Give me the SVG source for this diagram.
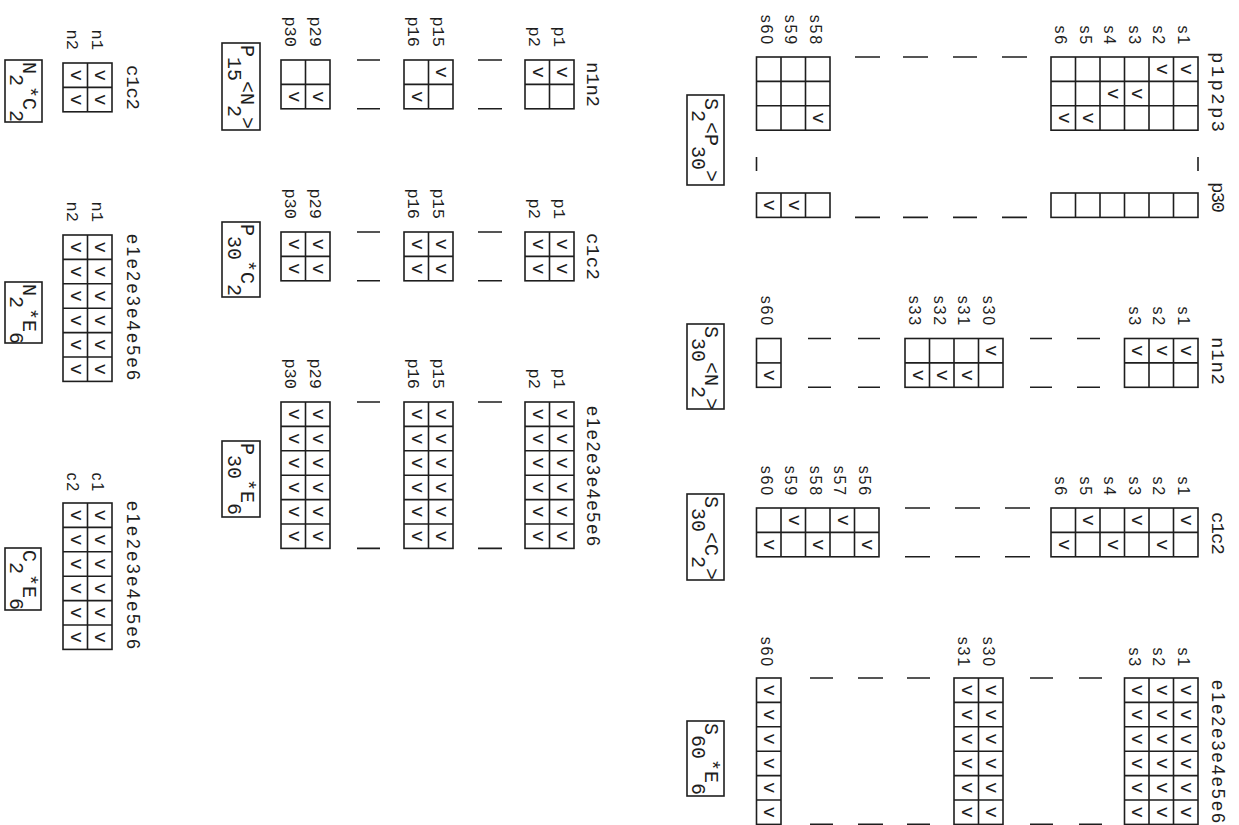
<svg xmlns="http://www.w3.org/2000/svg" width="1239" height="825" viewBox="0 0 1239 825">
<style>
.ln{stroke:#1e1e1e;stroke-width:1.6;fill:none}
.ck{font-family:"Liberation Mono",monospace;font-size:19px;text-anchor:middle;fill:#1e1e1e}
.ls{font-family:"Liberation Sans",Arial,sans-serif;font-size:16px;text-anchor:end;letter-spacing:1.8px;fill:#1e1e1e}
.lm{font-family:"Liberation Mono",monospace;font-size:17px;text-anchor:end;fill:#1e1e1e}
.hm{font-family:"Liberation Mono",monospace;font-size:19px;fill:#1e1e1e}
.hs{font-family:"Liberation Sans",Arial,sans-serif;font-size:18px;fill:#1e1e1e}
.bt{font-family:"Liberation Mono",monospace;font-size:20px;fill:#1e1e1e}
</style>
<rect width="1239" height="825" fill="#ffffff"/>
<g transform="translate(1239,0) rotate(90)">

<g id="node-S2P30">
<rect class="ln" x="57" y="41" width="73.2" height="147"/>
<path class="ln" d="M81.4 41V188M105.8 41V188M57 65.5H130.2M57 90H130.2M57 114.5H130.2M57 139H130.2M57 163.5H130.2"/>
<rect class="ln" x="193" y="41" width="24.4" height="147"/>
<path class="ln" d="M193 65.5H217.4M193 90H217.4M193 114.5H217.4M193 139H217.4M193 163.5H217.4"/>
<rect class="ln" x="57" y="409" width="73.2" height="73.5"/>
<path class="ln" d="M81.4 409V482.5M105.8 409V482.5M57 433.5H130.2M57 458H130.2"/>
<rect class="ln" x="193" y="409" width="24.4" height="73.5"/>
<path class="ln" d="M193 433.5H217.4M193 458H217.4"/>
<path class="ln" d="M157 41H171M157 482.5H171M57 212V237M57 262V286M57 311V336M57 359V384M217.4 212V237M217.4 262V286M217.4 311V336M217.4 359V384"/>
<text class="hm" x="52" y="27" textLength="80">p1p2p3</text>
<text class="hm" x="182" y="27" textLength="31">p30</text>
<text class="ls" x="46" y="61.5">s1</text><text class="ls" x="46" y="86">s2</text><text class="ls" x="46" y="110.5">s3</text>
<text class="ls" x="46" y="135">s4</text><text class="ls" x="46" y="159.5">s5</text><text class="ls" x="46" y="184">s6</text>
<text class="ls" x="46" y="429.5">s58</text><text class="ls" x="46" y="454">s59</text><text class="ls" x="46" y="478.5">s60</text>
<text class="ck" x="69.2" y="58">v</text><text class="ck" x="69.2" y="82.5">v</text><text class="ck" x="93.6" y="107">v</text>
<text class="ck" x="93.6" y="131.5">v</text><text class="ck" x="118" y="156">v</text><text class="ck" x="118" y="180.5">v</text>
<text class="ck" x="118" y="426">v</text><text class="ck" x="205.2" y="450.5">v</text><text class="ck" x="205.2" y="475">v</text>
<rect class="ln" x="95" y="515" width="90" height="37"/>
<text class="bt" x="98" y="534">S<tspan y="547">2</tspan><tspan y="534">&lt;P</tspan><tspan y="547">30</tspan><tspan y="534">&gt;</tspan></text>
</g>

<g id="node-S30N2">
<rect class="ln" x="338.5" y="41" width="48.8" height="73.5"/>
<path class="ln" d="M362.9 41V114.5M338.5 65.5H387.3M338.5 90H387.3"/>
<rect class="ln" x="338.5" y="236" width="48.8" height="98"/>
<path class="ln" d="M362.9 236V334M338.5 260.5H387.3M338.5 285H387.3M338.5 309.5H387.3"/>
<rect class="ln" x="338.5" y="458" width="48.8" height="24.5"/>
<path class="ln" d="M362.9 458V482.5"/>
<path class="ln" d="M338.5 139V162M338.5 187V209M338.5 359V381M338.5 408V431M387.3 139V162M387.3 187V209M387.3 359V381M387.3 408V431"/>
<text class="hm" x="337" y="27" textLength="48">n1n2</text>
<text class="ls" x="327" y="61.5">s1</text><text class="ls" x="327" y="86">s2</text><text class="ls" x="327" y="110.5">s3</text>
<text class="ls" x="327" y="256.5">s30</text><text class="ls" x="327" y="281">s31</text><text class="ls" x="327" y="305.5">s32</text><text class="ls" x="327" y="330">s33</text>
<text class="ls" x="327" y="478.5">s60</text>
<text class="ck" x="350.7" y="58">v</text><text class="ck" x="350.7" y="82.5">v</text><text class="ck" x="350.7" y="107">v</text>
<text class="ck" x="350.7" y="253">v</text><text class="ck" x="375.1" y="277.5">v</text><text class="ck" x="375.1" y="302">v</text><text class="ck" x="375.1" y="326.5">v</text>
<text class="ck" x="375.1" y="475">v</text>
<rect class="ln" x="324" y="515" width="85" height="37"/>
<text class="bt" x="326" y="534">S<tspan y="547">30</tspan><tspan y="534">&lt;N</tspan><tspan y="547">2</tspan><tspan y="534">&gt;</tspan></text>
</g>

<g id="node-S30C2">
<rect class="ln" x="508" y="41" width="48.8" height="147"/>
<path class="ln" d="M532.4 41V188M508 65.5H556.8M508 90H556.8M508 114.5H556.8M508 139H556.8M508 163.5H556.8"/>
<rect class="ln" x="508" y="360" width="48.8" height="122.5"/>
<path class="ln" d="M532.4 360V482.5M508 384.5H556.8M508 409H556.8M508 433.5H556.8M508 458H556.8"/>
<path class="ln" d="M508 209V234M508 259V284M508 309V334M556.8 209V234M556.8 259V284M556.8 309V334"/>
<text class="hm" x="512" y="27" textLength="43">c1c2</text>
<text class="ls" x="497" y="61.5">s1</text><text class="ls" x="497" y="86">s2</text><text class="ls" x="497" y="110.5">s3</text>
<text class="ls" x="497" y="135">s4</text><text class="ls" x="497" y="159.5">s5</text><text class="ls" x="497" y="184">s6</text>
<text class="ls" x="497" y="380.5">s56</text><text class="ls" x="497" y="405">s57</text><text class="ls" x="497" y="429.5">s58</text><text class="ls" x="497" y="454">s59</text><text class="ls" x="497" y="478.5">s60</text>
<text class="ck" x="520.2" y="58">v</text><text class="ck" x="544.6" y="82.5">v</text><text class="ck" x="520.2" y="107">v</text>
<text class="ck" x="544.6" y="131.5">v</text><text class="ck" x="520.2" y="156">v</text><text class="ck" x="544.6" y="180.5">v</text>
<text class="ck" x="544.6" y="377">v</text><text class="ck" x="520.2" y="401.5">v</text><text class="ck" x="544.6" y="426">v</text><text class="ck" x="520.2" y="450.5">v</text><text class="ck" x="544.6" y="475">v</text>
<rect class="ln" x="494" y="515" width="86" height="37"/>
<text class="bt" x="496" y="534">S<tspan y="547">30</tspan><tspan y="534">&lt;C</tspan><tspan y="547">2</tspan><tspan y="534">&gt;</tspan></text>
</g>

<g id="node-S60E6">
<rect class="ln" x="678" y="41" width="146.4" height="73.5"/>
<path class="ln" d="M702.4 41V114.5M726.8 41V114.5M751.2 41V114.5M775.6 41V114.5M800 41V114.5M678 65.5H824.4M678 90H824.4"/>
<rect class="ln" x="678" y="236" width="146.4" height="49"/>
<path class="ln" d="M702.4 236V285M726.8 236V285M751.2 236V285M775.6 236V285M800 236V285M678 260.5H824.4"/>
<rect class="ln" x="678" y="458" width="146.4" height="24.5"/>
<path class="ln" d="M702.4 458V482.5M726.8 458V482.5M751.2 458V482.5M775.6 458V482.5M800 458V482.5"/>
<path class="ln" d="M678 137V160M678 186V209M678 309V332M678 356V381M678 406V429M824.4 137V160M824.4 186V209M824.4 309V332M824.4 356V381M824.4 406V429"/>
<text class="hs" x="680" y="27" textLength="143">e1e2e3e4e5e6</text>
<text class="ls" x="668" y="61.5">s1</text><text class="ls" x="668" y="86">s2</text><text class="ls" x="668" y="110.5">s3</text>
<text class="ls" x="668" y="256.5">s30</text><text class="ls" x="668" y="281">s31</text><text class="ls" x="668" y="478.5">s60</text>
<text class="ck" x="690.2 714.6 739 763.4 787.8 812.2" y="58">vvvvvv</text>
<text class="ck" x="690.2 714.6 739 763.4 787.8 812.2" y="82.5">vvvvvv</text>
<text class="ck" x="690.2 714.6 739 763.4 787.8 812.2" y="107">vvvvvv</text>
<text class="ck" x="690.2 714.6 739 763.4 787.8 812.2" y="253">vvvvvv</text>
<text class="ck" x="690.2 714.6 739 763.4 787.8 812.2" y="277.5">vvvvvv</text>
<text class="ck" x="690.2 714.6 739 763.4 787.8 812.2" y="475">vvvvvv</text>
<rect class="ln" x="721" y="515" width="75" height="37"/>
<text class="bt" x="723" y="534">S<tspan y="547">60</tspan><tspan y="534">*E</tspan><tspan y="547">6</tspan></text>
</g>

<g id="node-P15N2">
<rect class="ln" x="60" y="665" width="48.8" height="49"/>
<path class="ln" d="M84.4 665V714M60 689.5H108.8"/>
<rect class="ln" x="60" y="786" width="48.8" height="49"/>
<path class="ln" d="M84.4 786V835M60 810.5H108.8"/>
<rect class="ln" x="60" y="909" width="48.8" height="49"/>
<path class="ln" d="M84.4 909V958M60 933.5H108.8"/>
<path class="ln" d="M60 737V761M60 859V882M108.8 737V761M108.8 859V882"/>
<text class="hm" x="62" y="652" textLength="45">n1n2</text>
<text class="lm" x="47" y="685.5">p1</text><text class="lm" x="47" y="710">p2</text>
<text class="lm" x="47" y="806.5">p15</text><text class="lm" x="47" y="831">p16</text>
<text class="lm" x="47" y="929.5">p29</text><text class="lm" x="47" y="954">p30</text>
<text class="ck" x="72.2" y="682">v</text><text class="ck" x="72.2" y="706.5">v</text>
<text class="ck" x="72.2" y="803">v</text><text class="ck" x="96.6" y="827.5">v</text>
<text class="ck" x="96.6" y="926">v</text><text class="ck" x="96.6" y="950.5">v</text>
<rect class="ln" x="43" y="979" width="87" height="38"/>
<text class="bt" x="45" y="998">P<tspan y="1011">15</tspan><tspan y="998">&lt;N</tspan><tspan y="1011">2</tspan><tspan y="998">&gt;</tspan></text>
</g>

<g id="node-P30C2">
<rect class="ln" x="232" y="665" width="48.8" height="49"/>
<path class="ln" d="M256.4 665V714M232 689.5H280.8"/>
<rect class="ln" x="232" y="786" width="48.8" height="49"/>
<path class="ln" d="M256.4 786V835M232 810.5H280.8"/>
<rect class="ln" x="232" y="909" width="48.8" height="49"/>
<path class="ln" d="M256.4 909V958M232 933.5H280.8"/>
<path class="ln" d="M232 737V761M232 859V882M280.8 737V761M280.8 859V882"/>
<text class="hm" x="233" y="652" textLength="47">c1c2</text>
<text class="lm" x="219" y="685.5">p1</text><text class="lm" x="219" y="710">p2</text>
<text class="lm" x="219" y="806.5">p15</text><text class="lm" x="219" y="831">p16</text>
<text class="lm" x="219" y="929.5">p29</text><text class="lm" x="219" y="954">p30</text>
<text class="ck" x="244.2 268.6" y="682">vv</text><text class="ck" x="244.2 268.6" y="706.5">vv</text>
<text class="ck" x="244.2 268.6" y="803">vv</text><text class="ck" x="244.2 268.6" y="827.5">vv</text>
<text class="ck" x="244.2 268.6" y="926">vv</text><text class="ck" x="244.2 268.6" y="950.5">vv</text>
<rect class="ln" x="222" y="979" width="75" height="38"/>
<text class="bt" x="224" y="998">P<tspan y="1011">30</tspan><tspan y="998">*C</tspan><tspan y="1011">2</tspan></text>
</g>

<g id="node-P30E6">
<rect class="ln" x="402" y="665" width="146.4" height="49"/>
<path class="ln" d="M426.4 665V714M450.8 665V714M475.2 665V714M499.6 665V714M524 665V714M402 689.5H548.4"/>
<rect class="ln" x="402" y="786" width="146.4" height="49"/>
<path class="ln" d="M426.4 786V835M450.8 786V835M475.2 786V835M499.6 786V835M524 786V835M402 810.5H548.4"/>
<rect class="ln" x="402" y="909" width="146.4" height="49"/>
<path class="ln" d="M426.4 909V958M450.8 909V958M475.2 909V958M499.6 909V958M524 909V958M402 933.5H548.4"/>
<path class="ln" d="M402 737V761M402 859V882M548.4 737V761M548.4 859V882"/>
<text class="hs" x="406" y="652" textLength="140">e1e2e3e4e5e6</text>
<text class="lm" x="389" y="685.5">p1</text><text class="lm" x="389" y="710">p2</text>
<text class="lm" x="389" y="806.5">p15</text><text class="lm" x="389" y="831">p16</text>
<text class="lm" x="389" y="929.5">p29</text><text class="lm" x="389" y="954">p30</text>
<text class="ck" x="414.2 438.6 463 487.4 511.8 536.2" y="682">vvvvvv</text>
<text class="ck" x="414.2 438.6 463 487.4 511.8 536.2" y="706.5">vvvvvv</text>
<text class="ck" x="414.2 438.6 463 487.4 511.8 536.2" y="803">vvvvvv</text>
<text class="ck" x="414.2 438.6 463 487.4 511.8 536.2" y="827.5">vvvvvv</text>
<text class="ck" x="414.2 438.6 463 487.4 511.8 536.2" y="926">vvvvvv</text>
<text class="ck" x="414.2 438.6 463 487.4 511.8 536.2" y="950.5">vvvvvv</text>
<rect class="ln" x="441" y="979" width="76" height="38"/>
<text class="bt" x="443" y="998">P<tspan y="1011">30</tspan><tspan y="998">*E</tspan><tspan y="1011">6</tspan></text>
</g>

<g id="node-N2C2">
<rect class="ln" x="63" y="1127" width="48.8" height="49"/>
<path class="ln" d="M87.4 1127V1176M63 1151.5H111.8"/>
<text class="hm" x="65" y="1112" textLength="45">c1c2</text>
<text class="lm" x="50" y="1147.5">n1</text><text class="lm" x="50" y="1172">n2</text>
<text class="ck" x="75.2 99.6" y="1144">vv</text><text class="ck" x="75.2 99.6" y="1168.5">vv</text>
<rect class="ln" x="60" y="1197" width="62" height="37"/>
<text class="bt" x="62" y="1216">N<tspan y="1229">2</tspan><tspan y="1216">*C</tspan><tspan y="1229">2</tspan></text>
</g>

<g id="node-N2E6">
<rect class="ln" x="235" y="1127" width="146.4" height="49"/>
<path class="ln" d="M259.4 1127V1176M283.8 1127V1176M308.2 1127V1176M332.6 1127V1176M357 1127V1176M235 1151.5H381.4"/>
<text class="hs" x="234" y="1112" textLength="146">e1e2e3e4e5e6</text>
<text class="lm" x="222" y="1147.5">n1</text><text class="lm" x="222" y="1172">n2</text>
<text class="ck" x="247.2 271.6 296 320.4 344.8 369.2" y="1144">vvvvvv</text>
<text class="ck" x="247.2 271.6 296 320.4 344.8 369.2" y="1168.5">vvvvvv</text>
<rect class="ln" x="282" y="1197" width="61" height="37"/>
<text class="bt" x="284" y="1216">N<tspan y="1229">2</tspan><tspan y="1216">*E</tspan><tspan y="1229">6</tspan></text>
</g>

<g id="node-C2E6">
<rect class="ln" x="503" y="1127" width="146.4" height="49"/>
<path class="ln" d="M527.4 1127V1176M551.8 1127V1176M576.2 1127V1176M600.6 1127V1176M625 1127V1176M503 1151.5H649.4"/>
<text class="hs" x="501" y="1112" textLength="148">e1e2e3e4e5e6</text>
<text class="ls" x="493" y="1147.5">c1</text><text class="ls" x="493" y="1172">c2</text>
<text class="ck" x="515.2 539.6 564 588.4 612.8 637.2" y="1144">vvvvvv</text>
<text class="ck" x="515.2 539.6 564 588.4 612.8 637.2" y="1168.5">vvvvvv</text>
<rect class="ln" x="548" y="1198" width="62" height="36"/>
<text class="bt" x="550" y="1216">C<tspan y="1229">2</tspan><tspan y="1216">*E</tspan><tspan y="1229">6</tspan></text>
</g>

<g id="connectors"></g>
</g>
</svg>
